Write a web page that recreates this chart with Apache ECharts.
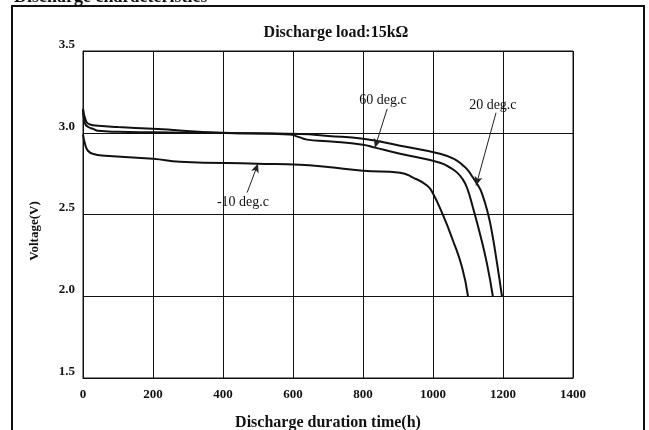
<!DOCTYPE html>
<html>
<head>
<meta charset="utf-8">
<script src="https://cdn.jsdelivr.net/npm/echarts@6/dist/echarts.min.js"></script>
<style>
html,body{margin:0;padding:0;background:#fff;}
#c{width:649px;height:430px;}
</style>
</head>
<body>
<div id="c"></div>
<script>
// ---- data (hours, volts) ----
var xTicks = [0, 200, 400, 600, 800, 1000, 1200, 1400];
var yTicks = [1.5, 2.0, 2.5, 3.0, 3.5];

var t20 = [0, 5, 15, 29, 43, 100, 200, 400, 620, 700, 800, 906, 1020, 1060, 1086, 1100, 1114, 1128, 1140, 1157, 1169, 1183, 1197];
var v20 = [3.146, 3.06, 3.035, 3.024, 3.012, 3.006, 3.003, 2.998, 2.992, 2.98, 2.963, 2.921, 2.872, 2.84, 2.799, 2.77, 2.726, 2.68, 2.628, 2.506, 2.384, 2.201, 2.0];

var t60 = [0, 9, 20, 43, 100, 200, 400, 590, 615, 640, 700, 800, 834, 906, 1020, 1050, 1069, 1085, 1097, 1114, 1134, 1154, 1171];
var v60 = [3.146, 3.07, 3.05, 3.043, 3.035, 3.024, 3.0, 2.99, 2.975, 2.958, 2.948, 2.927, 2.909, 2.872, 2.817, 2.785, 2.756, 2.715, 2.665, 2.543, 2.384, 2.201, 2.0];

var tm10 = [0, 6, 14, 30, 63, 200, 277, 497, 620, 700, 800, 906, 943, 983, 1000, 1029, 1057, 1083, 1100];
var vm10 = [2.99, 2.93, 2.89, 2.87, 2.86, 2.841, 2.823, 2.811, 2.805, 2.79, 2.768, 2.756, 2.726, 2.677, 2.628, 2.494, 2.341, 2.177, 2.0];

// annotation: label text, label position, arrow start, arrow end (data coords)
var labels = ['20 deg.c', '60 deg.c', '-10 deg.c'];
var labelPos = [[1171, 3.17], [857, 3.201], [457, 2.573]];
var arrowFrom = [[1180, 3.122], [869, 3.146], [469, 2.634]];
var arrowTo = [[1123, 2.677], [834, 2.909], [500, 2.811]];

function pairs(t, v) { return t.map(function (x, i) { return [x, v[i]]; }); }

var serif = '"Liberation Serif", "DejaVu Serif", serif';
var curves = [pairs(t20, v20), pairs(t60, v60), pairs(tm10, vm10)];

var series = curves.map(function (d, i) {
  return {
    type: 'line',
    data: d,
    smooth: 0.5,
    showSymbol: false,
    symbol: 'none',
    lineStyle: { color: '#111', width: 2 },
    silent: true,
    markLine: {
      silent: true,
      symbol: ['none', 'arrow'],
      symbolSize: [6, 9],
      lineStyle: { color: '#222', width: 1, type: 'solid' },
      label: { show: false },
      data: [[{ coord: arrowFrom[i] }, { coord: arrowTo[i] }]]
    },
    markPoint: {
      silent: true,
      symbol: 'circle',
      symbolSize: 0,
      label: {
        show: true,
        position: 'inside',
        formatter: labels[i],
        color: '#111',
        fontFamily: serif,
        fontSize: 14
      },
      data: [{ coord: labelPos[i] }]
    }
  };
});

var chart = echarts.init(document.getElementById('c'));
chart.setOption({
  backgroundColor: '#fff',
  animation: false,
  grid: { left: 83, top: 51, right: 76, bottom: 52, show: true, borderColor: '#111', borderWidth: 1, outerBoundsMode: 'none', containLabel: false },
  title: {
    text: 'Discharge load:15kΩ',
    left: 331, top: 20, textAlign: 'center',
    textStyle: { fontFamily: serif, fontWeight: 'bold', fontSize: 16, color: '#111' }
  },
  xAxis: {
    type: 'value', min: 0, max: 1400, interval: 200,
    name: 'Discharge duration time(h)', nameLocation: 'middle', nameGap: 37,
    nameTextStyle: { fontFamily: serif, fontWeight: 'bold', fontSize: 16, color: '#111' },
    axisLine: { lineStyle: { color: '#111', width: 1 } },
    axisTick: { show: false },
    splitLine: { lineStyle: { color: '#111', width: 1 } },
    axisLabel: {
      margin: 10, fontFamily: serif, fontWeight: 'bold', fontSize: 13, color: '#111',
      formatter: function (v) { return xTicks.indexOf(v) >= 0 ? String(v) : ''; }
    }
  },
  yAxis: {
    type: 'value', min: 1.5, max: 3.5, interval: 0.5,
    axisLine: { show: true, lineStyle: { color: '#111', width: 1 } },
    axisTick: { show: false },
    splitLine: { lineStyle: { color: '#111', width: 1 } },
    axisLabel: {
      margin: 8, fontFamily: serif, fontWeight: 'bold', fontSize: 13, color: '#111',
      verticalAlign: 'bottom',
      formatter: function (v) { return yTicks.indexOf(v) >= 0 ? v.toFixed(1) : ''; }
    }
  },
  graphic: [
    { type: 'rect', shape: { x: 12, y: 6, width: 632, height: 440 }, style: { fill: 'none', stroke: '#111', lineWidth: 2 }, silent: true },
    { type: 'text', x: 14, y: 6, style: { text: 'Discharge characteristics', fontFamily: serif, fontWeight: 'bold', fontSize: 18, fill: '#111', align: 'left', verticalAlign: 'bottom' }, silent: true },
    { type: 'text', x: 35, y: 231, rotation: Math.PI / 2, style: { text: 'Voltage(V)', fontFamily: serif, fontWeight: 'bold', fontSize: 13, fill: '#111', align: 'center', verticalAlign: 'middle' }, silent: true }
  ],
  series: series
});
</script>
</body>
</html>
